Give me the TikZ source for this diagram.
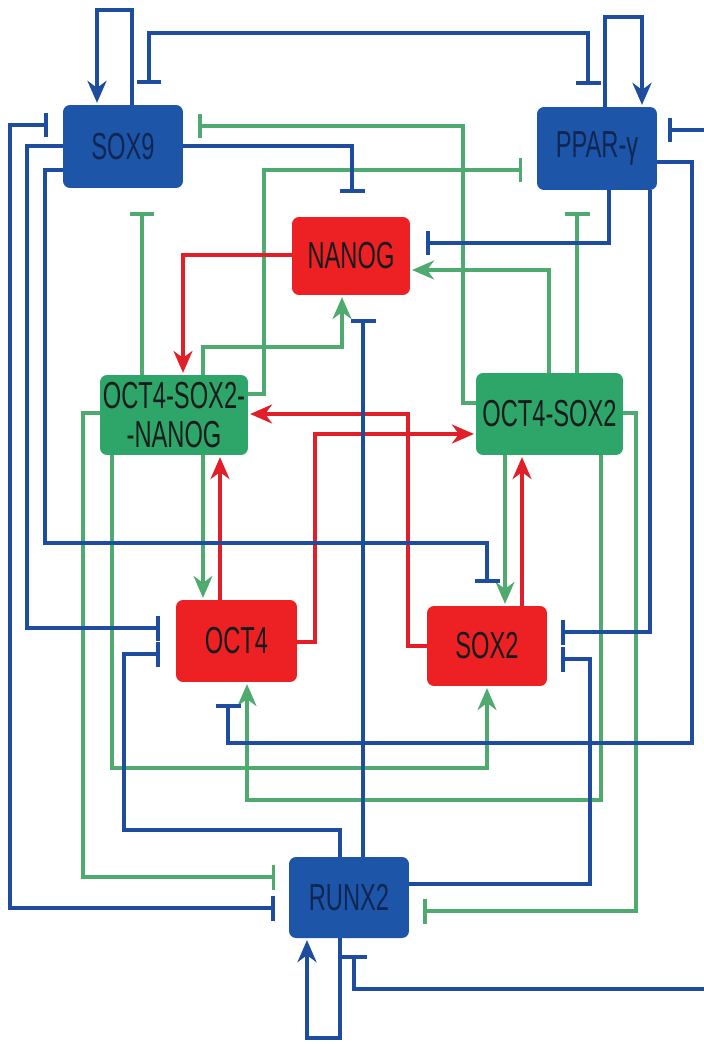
\documentclass[tikz,border=0pt]{standalone}
\usepackage{fontspec}
\setmainfont{Liberation Sans}[FakeStretch=0.63]
\usetikzlibrary{arrows.meta,positioning}
\definecolor{boxBlue}{RGB}{29,85,168}
\definecolor{boxRed}{RGB}{237,32,36}
\definecolor{boxGreen}{RGB}{46,166,106}
\definecolor{lnBlue}{RGB}{30,76,158}
\definecolor{lnGreen}{RGB}{78,170,110}
\definecolor{lnRed}{RGB}{226,30,40}
\definecolor{txtBlue}{RGB}{16,38,82}
\definecolor{txtDark}{RGB}{22,28,28}
\newcommand{\genefont}{\fontsize{21.4}{22.6}\selectfont}
\tikzset{
  gene/.style={rectangle, rounded corners=0.14cm, minimum width=2.4cm,
    minimum height=1.62cm, inner sep=0pt, text=txtDark, font=\genefont, align=center},
  bl/.style={draw=lnBlue, line width=2.2pt},
  gr/.style={draw=lnGreen, line width=1.8pt},
  rd/.style={draw=lnRed, line width=2pt},
  act/.style={-{Stealth[length=0.44cm,width=0.38cm,inset=0.14cm]}, shorten >=1pt},
  inh/.style={-{Bar[width=0.5cm]}, shorten >=#1},
  mutual/.style 2 args={{Bar[width=0.5cm]}-{Bar[width=0.5cm]}, shorten <=#1, shorten >=#2}
}
\begin{document}
\begin{tikzpicture}[x=0.02cm, y=-0.02cm]
\useasboundingbox (0,0) rectangle (703,1044);
% genes
\node[gene, fill=boxBlue, text=txtBlue, minimum height=1.66cm] (sox9) at (123,146.5) {SOX9};
\node[gene, fill=boxBlue, text=txtBlue, minimum height=1.66cm] (ppar) at (597,148.5) {PPAR-γ};
\node[gene, fill=boxRed, minimum width=2.36cm, minimum height=1.56cm] (nanog) at (351,256) {NANOG};
\node[gene, fill=boxGreen, minimum width=2.96cm, minimum height=1.6cm] (osn) at (174,415) {OCT4-SOX2-\\-NANOG};
\node[gene, fill=boxGreen, minimum width=2.94cm, minimum height=1.64cm] (os) at (549.5,414) {OCT4-SOX2};
\node[gene, fill=boxRed, minimum width=2.42cm, minimum height=1.64cm] (oct4) at (236.5,641) {OCT4};
\node[gene, fill=boxRed, minimum height=1.6cm] (sox2) at (487,646) {SOX2};
\node[gene, fill=boxBlue, text=txtBlue] (runx2) at (349,897.5) {RUNX2};
% green links
\draw[gr, inh=0.48cm] (142,0 |- osn.north) -- (142,0 |- sox9.south);
\draw[gr, act] (203,0 |- osn.north) |- (342,347) -- (342,0 |- nanog.south);
\draw[gr, inh=0.3cm] (osn.east |- 0,394) -| (264,170) -- (ppar.west |- 0,170);
\draw[gr, inh=0.3cm] (os.west |- 0,403) -| (463,126) -- (sox9.east |- 0,126);
\draw[gr, act] (549,0 |- os.north) |- (nanog.east |- 0,270);
\draw[gr, inh=0.44cm] (577,0 |- os.north) -- (577,0 |- ppar.south);
\draw[gr, inh=0.28cm] (osn.west |- 0,413) -| (83,877) -- (runx2.west |- 0,877);
\draw[gr, act] (112,0 |- osn.south) |- (487,768) -- (487,0 |- sox2.south);
\draw[gr, act] (203,0 |- osn.south) -- (203,0 |- oct4.north);
\draw[gr, act] (505,0 |- os.south) -- (505,0 |- sox2.north);
\draw[gr, act] (601,0 |- os.south) |- (247,800) -- (247,0 |- oct4.south);
\draw[gr, inh=0.28cm] (os.east |- 0,413) -| (636,911) -- (runx2.east |- 0,911);
% red links
\draw[rd, act] (nanog.west |- 0,255) -| (183,0 |- osn.north);
\draw[rd, act] (sox2.west |- 0,646) -| (408,414) -- (osn.east |- 0,414);
\draw[rd, act] (oct4.east |- 0,642) -| (315,434) -- (os.west |- 0,434);
\draw[rd, act] (220,0 |- oct4.north) -- (220,0 |- osn.south);
\draw[rd, act] (522,0 |- sox2.north) -- (522,0 |- os.south);
% blue links
\draw[bl, act] (132,0 |- sox9.north) -- (132,10) -| (97,0 |- sox9.north);
\draw[bl, act] (605,0 |- ppar.north) -- (605,17) -| (642,0 |- ppar.north);
\draw[bl, act] (340,0 |- runx2.south) -- (340,1038) -| (307,0 |- runx2.south);
\draw[bl, mutual={0.42cm}{0.44cm}] (149,0 |- sox9.north) |- (588,33) -- (588,0 |- ppar.north);
\draw[bl, mutual={0.3cm}{0.28cm}] (sox9.west |- 0,125) -| (10,908) -- (runx2.west |- 0,908);
\draw[bl, mutual={0.22cm}{0.34cm}] (ppar.east |- 0,130) -| (706,989) -| (354,0 |- runx2.south);
\draw[bl, inh=0.32cm] (sox9.west |- 0,146) -| (27,628) -- (oct4.west |- 0,628);
\draw[bl, inh=0.46cm] (sox9.west |- 0,170) -| (45,543) -| (487,0 |- sox2.north);
\draw[bl, inh=0.48cm] (sox9.east |- 0,146) -| (352,0 |- nanog.north);
\draw[bl, inh=0.44cm] (ppar.east |- 0,162) -| (692,743) -| (228,0 |- oct4.south);
\draw[bl, inh=0.28cm] (650,0 |- ppar.south) |- (sox2.east |- 0,632);
\draw[bl, inh=0.32cm] (609,0 |- ppar.south) |- (nanog.east |- 0,243);
\draw[bl, inh=0.48cm] (363,0 |- runx2.north) -- (363,0 |- nanog.south);
\draw[bl, inh=0.32cm] (340,0 |- runx2.north) |- (124,830) |- (oct4.west |- 0,654);
\draw[bl, inh=0.28cm] (runx2.east |- 0,884) -| (590,659) -- (sox2.east |- 0,659);
\end{tikzpicture}
\end{document}
